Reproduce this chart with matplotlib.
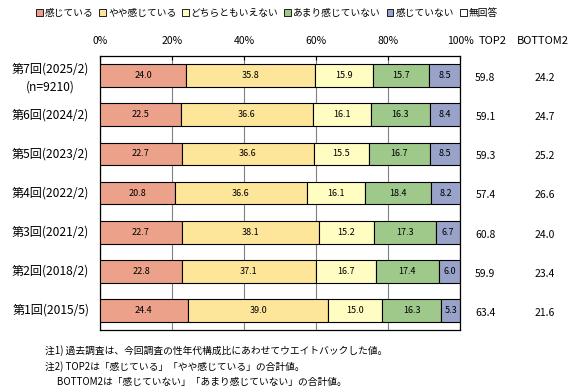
import matplotlib

matplotlib.use("Agg")
import matplotlib.pyplot as plt
import numpy as np

plt.rcParams["font.family"] = ["Noto Sans CJK JP", "DejaVu Sans"]

# rows from top (latest) to bottom (oldest)
rounds = ["第7回(2025/2)", "第6回(2024/2)", "第5回(2023/2)", "第4回(2022/2)",
          "第3回(2021/2)", "第2回(2018/2)", "第1回(2015/5)"]
sample_note = "(n=9210)"

categories = ["感じている", "やや感じている", "どちらともいえない",
              "あまり感じていない", "感じていない", "無回答"]
feel = [24.0, 22.5, 22.7, 20.8, 22.7, 22.8, 24.4]
somewhat = [35.8, 36.6, 36.6, 36.6, 38.1, 37.1, 39.0]
neutral = [15.9, 16.1, 15.5, 16.1, 15.2, 16.7, 15.0]
not_much = [15.7, 16.3, 16.7, 18.4, 17.3, 17.4, 16.3]
not_feel = [8.5, 8.4, 8.5, 8.2, 6.7, 6.0, 5.3]
no_answer = [0.0, 0.0, 0.0, 0.0, 0.0, 0.0, 0.0]

top2 = [59.8, 59.1, 59.3, 57.4, 60.8, 59.9, 63.4]
bottom2 = [24.2, 24.7, 25.2, 26.6, 24.0, 23.4, 21.6]

colors = ["#EBA18A", "#FDE59A", "#FFFDC2", "#9FC88B", "#99A3C9", "#FFFFFF"]
series = [feel, somewhat, neutral, not_much, not_feel, no_answer]

fig = plt.figure(figsize=(5.81, 3.90), dpi=100)
ax = fig.add_axes([0.172, 0.154, 0.620, 0.702])

n = len(rounds)
y = np.arange(n)[::-1]  # top row = index 0
left = np.zeros(n)
for vals, col, name in zip(series, colors, categories):
    vals = np.array(vals)
    ax.barh(y, vals, left=left, height=0.58, color=col, edgecolor="black",
            linewidth=0.8, zorder=3)
    for yi, l, v in zip(y, left, vals):
        if v > 0:
            ax.text(l + v / 2, yi, f"{v:.1f}", ha="center", va="center",
                    fontsize=6.5, zorder=4)
    left += vals

ax.set_xlim(0, 100)
ax.set_ylim(-0.5, n - 0.5)
ax.xaxis.tick_top()
ax.set_xticks([0, 20, 40, 60, 80, 100])
ax.set_xticklabels([f"{v}%" for v in [0, 20, 40, 60, 80, 100]], fontsize=7.5)
ax.tick_params(axis="x", direction="in", length=3, pad=7)
ax.set_yticks([])
ax.grid(axis="x", color="#808080", linewidth=0.8, zorder=0)
for s in ax.spines.values():
    s.set_color("black")
    s.set_linewidth(0.9)

# row labels
for yi, lab in zip(y, rounds):
    if lab == rounds[0]:
        ax.text(-3, yi + 0.18, lab, ha="right", va="center", fontsize=8.7,
                clip_on=False)
        ax.text(-7, yi - 0.28, sample_note, ha="right", va="center",
                fontsize=8.7, clip_on=False)
    else:
        ax.text(-3, yi, lab, ha="right", va="center", fontsize=8.7,
                clip_on=False)

# TOP2 / BOTTOM2 columns
ax.text(109, n - 0.5 + 0.38, "TOP2", ha="center", va="center", fontsize=8,
        clip_on=False)
ax.text(123, n - 0.5 + 0.38, "BOTTOM2", ha="center", va="center", fontsize=8,
        clip_on=False)
for yi, t, b in zip(y, top2, bottom2):
    ax.text(107, yi - 0.06, f"{t:.1f}", ha="center", va="center", fontsize=7.5,
            clip_on=False)
    ax.text(123.5, yi - 0.06, f"{b:.1f}", ha="center", va="center",
            fontsize=7.5, clip_on=False)

# legend
handles = [plt.Rectangle((0, 0), 1, 1, facecolor=c, edgecolor="black",
                         linewidth=0.6) for c in colors]
fig.legend(handles, categories, loc="upper left", bbox_to_anchor=(0.055, 0.99),
           ncol=6, frameon=False, fontsize=7, handlelength=0.7,
           handleheight=0.7, handletextpad=0.2, columnspacing=0.6,
           borderaxespad=0)

# notes
notes = [
    "注1) 過去調査は、今回調査の性年代構成比にあわせてウエイトバックした値。",
    "注2) TOP2は「感じている」「やや感じている」の合計値。",
    "　 BOTTOM2は「感じていない」「あまり感じていない」の合計値。",
]
for i, t in enumerate(notes):
    fig.text(0.077, 1 - (351 + i * 15.5) / 390, t, ha="left", va="center",
             fontsize=7)

fig.savefig("out.png", dpi=100)
